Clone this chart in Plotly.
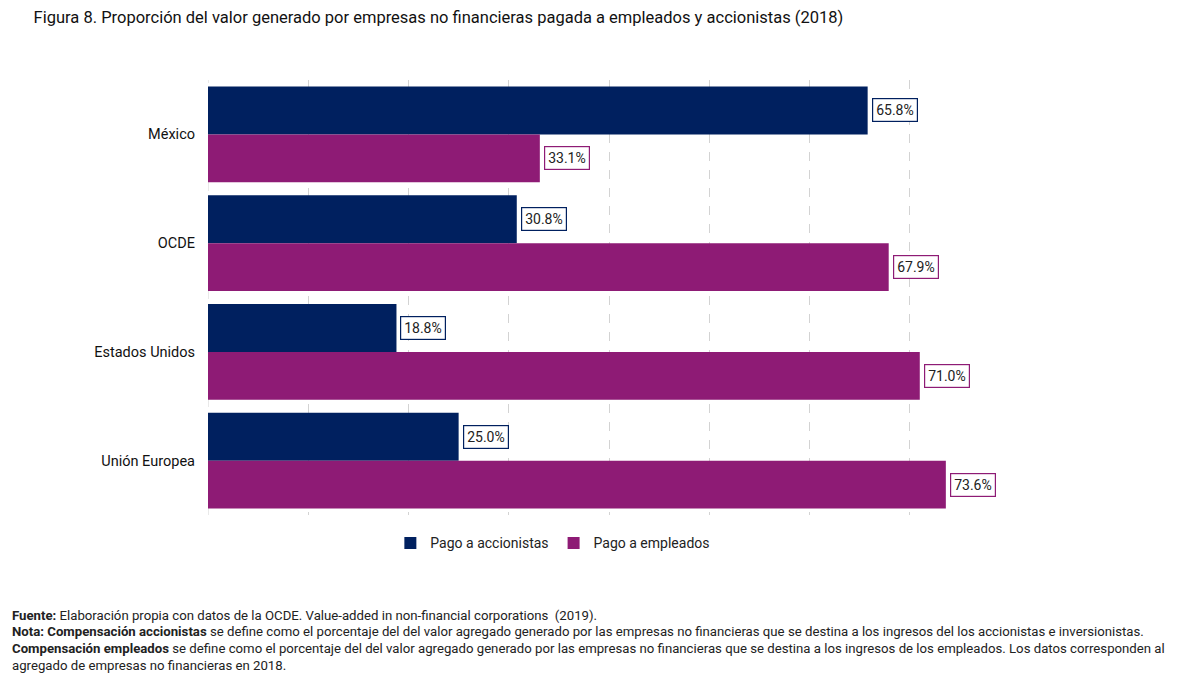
import plotly.graph_objects as go

categorias = ["México", "OCDE", "Estados Unidos", "Unión Europea"]
accionistas = [65.8, 30.8, 18.8, 25.0]
empleados = [33.1, 67.9, 71.0, 73.6]

c_acc = "#00205F"
c_emp = "#8E1B75"
font = "Roboto"

fig = go.Figure()
fig.add_trace(go.Bar(y=categorias, x=accionistas, orientation="h", name="Pago a accionistas",
                     marker=dict(color=c_acc, line=dict(width=0)), hoverinfo="x+y"))
fig.add_trace(go.Bar(y=categorias, x=empleados, orientation="h", name="Pago a empleados",
                     marker=dict(color=c_emp, line=dict(width=0)), hoverinfo="x+y"))

bargap = 0.12
half = (1 - bargap) / 4
for i, (a, e) in enumerate(zip(accionistas, empleados)):
    for v, off, col in ((a, -half, c_acc), (e, half, c_emp)):
        fig.add_annotation(x=v, y=i + off, xref="x", yref="y", text=f"{v:.1f}%",
                           showarrow=False, xanchor="left", yanchor="middle", xshift=4,
                           bgcolor="white", bordercolor=col, borderwidth=1.2, borderpad=3,
                           font=dict(family=font, size=14, color="#222"))

foot = [
    "<b>Fuente:</b> Elaboración propia con datos de la OCDE. Value-added in non-financial corporations  (2019).",
    "<b>Nota: Compensación accionistas</b> se define como el porcentaje del del valor agregado generado por las empresas no financieras que se destina a los ingresos del los accionistas e inversionistas.",
    "<b>Compensación empleados</b> se define como el porcentaje del del valor agregado generado por las empresas no financieras que se destina a los ingresos de los empleados. Los datos corresponden al",
    "agregado de empresas no financieras en 2018.",
]
top, bottom = 80, 515
for k, t in enumerate(foot):
    py = 615 + k * 16.8
    fig.add_annotation(x=(10 - 208) / (1010 - 208), y=(bottom - py) / (bottom - top),
                       xref="paper", yref="paper", text=t, showarrow=False,
                       xanchor="left", yanchor="middle", font=dict(family=font, size=13.2, color="#222"))

fig.update_layout(
    width=1200, height=675,
    margin=dict(l=208, r=190, t=top, b=675 - bottom),
    paper_bgcolor="white", plot_bgcolor="white",
    barmode="group", bargap=bargap, bargroupgap=0,
    title=dict(text="Figura 8. Proporción del valor generado por empresas no financieras pagada a empleados y accionistas (2018)",
               x=0.028, xanchor="left", y=0.975, yanchor="middle",
               font=dict(family=font, size=16.5, color="#111")),
    legend=dict(orientation="h", x=0.43, xanchor="center", y=-0.065, yanchor="middle",
                font=dict(family=font, size=14, color="#222"), itemwidth=30,
                traceorder="normal"),
    xaxis=dict(range=[0, 80], dtick=10, showticklabels=False, showgrid=True,
               gridcolor="#d3d3d3", griddash="dash", gridwidth=1, zeroline=False,
               showline=False, ticks=""),
    yaxis=dict(autorange="reversed", showgrid=False, showline=False, ticks="",
               ticklabelstandoff=12,
               tickfont=dict(family=font, size=14.5, color="#111")),
    showlegend=True,
)
fig.add_shape(type="line", x0=0, x1=0, y0=0, y1=1, xref="x", yref="paper",
              line=dict(color="#d3d3d3", width=1, dash="dash"), layer="below")

fig.write_html("out.html")
